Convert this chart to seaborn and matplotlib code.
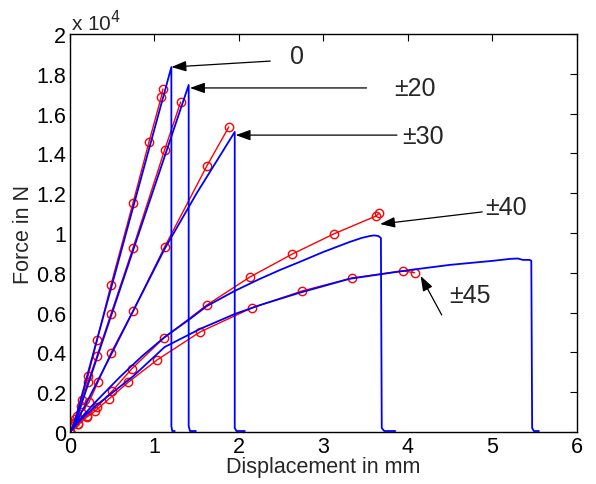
import numpy as np
import pandas as pd
import matplotlib
matplotlib.use("Agg")
import matplotlib.pyplot as plt
import seaborn as sns
from matplotlib.ticker import MultipleLocator, FormatStrFormatter

sns.set_style("white")
plt.rcParams["font.family"] = ["Liberation Sans", "DejaVu Sans"]

# force values in units of 1e4 N, displacement in mm
# experiment (blue)
exp_x = {
    "0": [0, 0.03, 0.08, 1.2, 1.2, 1.21, 1.24],
    "20": [0, 0.03, 0.08, 1.405, 1.405, 1.42, 1.49],
    "30": [0, 0.05, 0.2, 0.5, 0.75, 1.12, 1.5, 1.95, 1.95, 1.97, 2.07],
    "40": [0, 0.05, 0.1, 0.3, 0.59, 0.85, 1.12, 1.42, 1.62, 1.95, 2.25, 2.49, 2.72,
           3.0, 3.31, 3.45, 3.55, 3.6, 3.65, 3.68, 3.69, 3.72, 3.85],
    "45": [0, 0.05, 0.1, 0.3, 0.75, 1.12, 1.54, 1.95, 2.25, 2.72, 3.31, 4.02, 4.5,
           5.0, 5.21, 5.3, 5.36, 5.44, 5.46, 5.47, 5.49, 5.55],
}
exp_y = {
    "0": [0, 0.02, 0.09, 1.834, 0.03, 0.005, 0.005],
    "20": [0, 0.015, 0.07, 1.744, 0.03, 0.005, 0.005],
    "30": [0, 0.03, 0.15, 0.40, 0.61, 0.92, 1.20, 1.508, 0.02, 0.005, 0.005],
    "40": [0, 0.03, 0.055, 0.15, 0.276, 0.38, 0.477, 0.568, 0.633, 0.709, 0.77,
           0.815, 0.855, 0.905, 0.955, 0.975, 0.985, 0.988, 0.985, 0.975, 0.02, 0.005, 0.005],
    "45": [0, 0.025, 0.05, 0.13, 0.281, 0.427, 0.518, 0.593, 0.638, 0.70, 0.77,
           0.814, 0.84, 0.86, 0.87, 0.872, 0.865, 0.865, 0.86, 0.02, 0.005, 0.005],
}

# simulation (red, circles)
sim_x = {
    "0": [0, 0.04, 0.08, 0.14, 0.213, 0.32, 0.485, 0.746, 0.935, 1.08, 1.10],
    "20": [0, 0.06, 0.13, 0.213, 0.32, 0.485, 0.746, 1.12, 1.31],
    "30": [0, 0.06, 0.13, 0.225, 0.33, 0.485, 0.746, 1.12, 1.62, 1.88],
    "40": [0, 0.1, 0.2, 0.32, 0.5, 0.73, 1.11, 1.62, 2.13, 2.63, 3.12, 3.62, 3.66],
    "45": [0, 0.1, 0.2, 0.3, 0.46, 0.69, 1.03, 1.54, 2.15, 2.75, 3.34, 3.94, 4.08],
}
sim_y = {
    "0": [0, 0.04, 0.08, 0.161, 0.281, 0.462, 0.739, 1.151, 1.457, 1.683, 1.724],
    "20": [0, 0.065, 0.131, 0.251, 0.382, 0.593, 0.925, 1.417, 1.658],
    "30": [0, 0.05, 0.1, 0.15, 0.25, 0.397, 0.608, 0.93, 1.337, 1.533],
    "40": [0, 0.04, 0.08, 0.126, 0.206, 0.317, 0.472, 0.638, 0.779, 0.894, 0.995, 1.085, 1.10],
    "45": [0, 0.038, 0.075, 0.106, 0.166, 0.25, 0.362, 0.503, 0.623, 0.709, 0.774, 0.81, 0.80],
}

# annotation labels: text position, arrow tail, arrow head
labels = ["0", "\u00b120", "\u00b130", "\u00b140", "\u00b145"]
text_xy = [(2.69, 1.89), (4.08, 1.729), (4.18, 1.487), (5.16, 1.13), (4.73, 0.688)]
tail_xy = [(2.37, 1.864), (3.51, 1.729), (3.87, 1.492), (4.88, 1.106), (4.40, 0.588)]
head_xy = [(1.2, 1.834), (1.42, 1.729), (1.96, 1.492), (3.67, 1.045), (4.15, 0.784)]

fig = plt.figure(figsize=(5.96, 4.85), dpi=100)
ax = fig.add_axes([0.1174, 0.1072, 0.8506, 0.8206])

for k in sim_x:
    d = pd.DataFrame({"x": sim_x[k], "y": sim_y[k]})
    sns.lineplot(data=d, x="x", y="y", ax=ax, sort=False, estimator=None,
                 color="#ff0000", lw=1.0, marker="o", markersize=6,
                 markerfacecolor="none", markeredgecolor="#ff0000", markeredgewidth=1.0)
for k in exp_x:
    d = pd.DataFrame({"x": exp_x[k], "y": exp_y[k]})
    sns.lineplot(data=d, x="x", y="y", ax=ax, sort=False, estimator=None,
                 color="#0000ff", lw=1.3)

for lab, t, s, h in zip(labels, text_xy, tail_xy, head_xy):
    ax.annotate("", xy=h, xytext=s,
                arrowprops=dict(arrowstyle="-|>,head_length=0.9,head_width=0.32",
                                color="black", lw=0.9, shrinkA=0, shrinkB=0))
    ax.text(t[0], t[1], lab, fontsize=18, ha="center", va="center")

ax.set_xlim(0, 6)
ax.set_ylim(0, 2)
ax.xaxis.set_major_locator(MultipleLocator(1))
ax.yaxis.set_major_locator(MultipleLocator(0.2))
ax.yaxis.set_major_formatter(FormatStrFormatter("%g"))
ax.tick_params(direction="in", top=True, right=True, length=5, width=0.8,
               labelsize=15.5, colors="black", pad=3)
for sp in ax.spines.values():
    sp.set_color("black")
    sp.set_linewidth(1.0)

ax.set_xlabel("Displacement in mm", fontsize=15.5, labelpad=-1)
ax.set_ylabel("Force in N", fontsize=15.5, labelpad=1)
ax.text(0.003, 1.0, r"x 10$^{4}$", transform=ax.transAxes, fontsize=15,
        ha="left", va="bottom")

fig.savefig("out.png", dpi=100)
